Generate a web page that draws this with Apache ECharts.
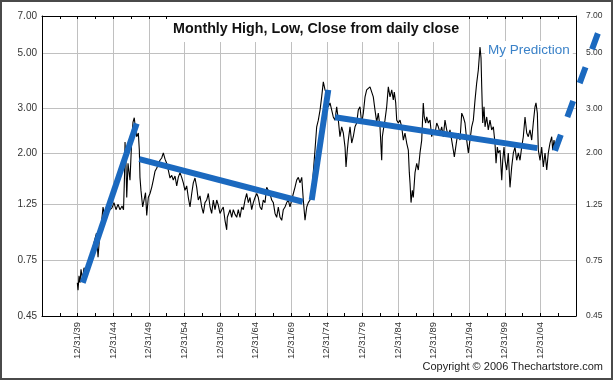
<!DOCTYPE html>
<html><head><meta charset="utf-8">
<script src="https://cdn.jsdelivr.net/npm/echarts@6/dist/echarts.min.js"></script>
<style>html,body{margin:0;padding:0;background:#fff}#c{width:615px;height:381px}</style>
</head><body><div id="c"></div>
<script>
const yTickValues = [0.45, 0.75, 1.25, 2.00, 3.00, 5.00, 7.00];
const xTickLabels = ['12/31/39','12/31/44','12/31/49','12/31/54','12/31/59','12/31/64','12/31/69','12/31/74','12/31/79','12/31/84','12/31/89','12/31/94','12/31/99','12/31/04'];
const years = [
1939.96,1940.06,1940.20,1940.34,1940.48,1940.69,1940.90,1941.18,1941.46,1941.74,
1942.02,1942.30,1942.65,1942.87,1943.08,1943.36,1943.57,1943.78,1943.99,1944.27,
1944.55,1944.83,1945.11,1945.39,1945.67,1945.96,1946.24,1946.45,1946.59,1946.66,
1946.80,1946.90,1947.08,1947.36,1947.60,1947.78,1947.96,1948.06,1948.30,1948.53,
1948.67,1948.76,1948.90,1949.14,1949.33,1949.54,1949.71,1949.93,1950.17,1950.41,
1950.63,1950.87,1951.11,1951.29,1951.57,1951.81,1952.04,1952.28,1952.51,1952.74,
1952.98,1953.22,1953.44,1953.68,1953.92,1954.14,1954.38,1954.62,1954.85,1955.08,
1955.32,1955.55,1955.79,1956.03,1956.25,1956.49,1956.73,1956.95,1957.19,1957.43,
1957.66,1957.89,1958.13,1958.36,1958.60,1958.83,1959.06,1959.30,1959.54,1959.76,
1960.00,1960.24,1960.46,1960.70,1960.94,1961.03,1961.41,1961.64,1961.87,1962.11,
1962.35,1962.57,1962.81,1963.05,1963.27,1963.51,1963.75,1963.98,1964.21,1964.45,
1964.68,1964.92,1965.16,1965.38,1965.62,1965.86,1966.08,1966.32,1966.56,1966.78,
1967.02,1967.26,1967.49,1967.73,1967.96,1968.19,1968.43,1968.67,1968.89,1969.13,
1969.37,1969.59,1969.83,1970.07,1970.30,1970.53,1970.77,1971.00,1971.24,1971.48,
1971.70,1971.94,1972.18,1972.40,1972.64,1972.88,1973.10,1973.34,1973.58,1973.81,
1974.05,1974.28,1974.51,1974.75,1974.99,1975.21,1975.45,1975.69,1975.91,1976.15,
1976.39,1976.62,1976.85,1977.09,1977.32,1977.56,1977.70,1977.88,1978.02,1978.26,
1978.50,1978.72,1978.96,1979.20,1979.42,1979.66,1979.90,1980.13,1980.37,1980.60,
1980.83,1981.07,1981.31,1981.53,1981.77,1982.01,1982.23,1982.47,1982.71,1982.80,
1982.94,1983.17,1983.41,1983.64,1983.88,1984.12,1984.34,1984.48,1984.68,1984.82,
1985.04,1985.28,1985.52,1985.75,1985.98,1986.22,1986.45,1986.59,1986.69,1986.83,
1987.01,1987.15,1987.39,1987.63,1987.85,1988.09,1988.33,1988.55,1988.69,1988.89,
1989.03,1989.26,1989.50,1989.73,1989.96,1990.20,1990.44,1990.66,1990.90,1991.14,
1991.36,1991.60,1991.84,1992.07,1992.30,1992.54,1992.77,1992.91,1993.11,1993.25,
1993.47,1993.71,1993.95,1994.17,1994.41,1994.65,1994.88,1995.11,1995.35,1995.58,
1995.82,1996.05,1996.28,1996.52,1996.66,1996.76,1996.90,1997.08,1997.22,1997.46,
1997.68,1997.92,1998.16,1998.39,1998.62,1998.77,1998.95,1999.09,1999.33,1999.57,
1999.71,1999.89,2000.03,2000.27,2000.49,2000.73,2000.97,2001.20,2001.43,2001.67,
2001.90,2002.14,2002.37,2002.60,2002.84,2003.08,2003.30,2003.54,2003.78,2004.00,
2004.24,2004.38,2004.57,2004.71,2004.95,2005.18,2005.41,2005.65,2005.89,2006.11,
2006.35,2006.59,2006.73,2006.91,2007.05
];
const closes = [
0.61,0.57,0.65,0.61,0.69,0.63,0.70,0.66,0.73,0.70,
0.80,0.88,0.96,0.77,0.92,1.06,1.22,1.13,1.20,1.17,
1.18,1.21,1.27,1.19,1.25,1.19,1.23,1.19,1.63,2.21,
1.79,1.33,1.82,1.56,2.25,2.65,2.76,2.60,2.32,2.40,
2.05,1.60,1.42,1.22,1.30,1.39,1.13,1.33,1.38,1.46,
1.56,1.69,1.74,1.71,1.87,1.91,2.00,1.89,1.82,1.71,
1.59,1.63,1.56,1.62,1.48,1.60,1.67,1.60,1.52,1.42,
1.48,1.33,1.22,1.38,1.52,1.59,1.46,1.30,1.35,1.22,
1.15,1.27,1.30,1.38,1.22,1.15,1.30,1.19,1.30,1.24,
1.15,1.19,1.22,1.08,0.99,1.11,1.19,1.11,1.19,1.14,
1.11,1.19,1.11,1.22,1.19,1.30,1.38,1.27,1.33,1.19,
1.27,1.33,1.38,1.33,1.22,1.19,1.30,1.27,1.46,1.42,
1.38,1.30,1.27,1.15,1.11,1.22,1.11,1.08,1.19,1.22,
1.27,1.30,1.22,1.30,1.38,1.46,1.56,1.60,1.52,1.60,
1.30,1.08,1.22,1.27,1.30,1.38,1.67,2.05,2.54,2.70,
2.96,3.34,3.83,3.56,3.46,3.05,3.16,2.96,2.78,2.70,
3.05,2.70,2.32,2.54,2.40,2.11,1.76,2.05,2.25,2.54,
2.19,2.32,2.54,2.63,2.96,3.05,2.63,2.88,3.34,3.56,
3.62,3.66,3.49,3.34,2.96,2.65,2.88,2.54,1.87,2.32,
2.47,2.70,3.05,3.66,3.34,3.56,3.25,3.49,3.16,2.70,
2.63,2.70,2.54,2.25,2.40,2.19,2.05,1.67,1.52,1.27,
1.42,1.33,1.67,1.82,1.71,2.00,2.25,3.16,2.78,2.63,
2.78,2.63,2.70,2.32,2.47,2.40,2.63,2.54,2.40,2.54,
2.32,2.70,2.47,2.32,2.47,2.25,2.05,1.93,2.11,2.25,
2.40,2.25,2.88,2.78,2.63,2.25,2.00,2.25,2.54,2.70,
3.25,3.79,4.27,5.27,4.77,3.66,2.63,3.05,2.54,2.78,
2.47,2.70,2.47,2.54,2.19,1.82,2.11,2.00,2.05,1.56,
1.87,2.11,1.87,1.71,2.00,1.46,1.76,2.00,2.11,1.87,
2.00,1.87,2.11,2.32,2.78,2.40,2.32,2.47,2.25,2.63,
3.05,3.16,2.88,2.05,1.87,2.11,1.76,2.00,1.71,2.00,
2.19,2.32,2.05,2.25,2.11
];
const trendLines = [
  [[1940.72, 0.61], [1948.30, 2.62]],
  [[1948.67, 1.89], [1971.62, 1.28]],
  [[1972.88, 1.30], [1975.21, 3.56]],
  [[1976.15, 2.77], [2004.57, 2.09]]
];
const prediction = [[2007.05, 2.04], [2013.09, 5.99]];

const FONT = '"Liberation Sans", Arial, Helvetica, sans-serif';
const ln = v => Math.log(v);
const lnTicks = yTickValues.map(ln);
const yMin = ln(yTickValues[0]), yMax = ln(yTickValues[yTickValues.length - 1]);
const xFormatter = v => xTickLabels[Math.round((v - 1940) / 5)] || '';
const BLUE = '#1b69bf';

const chart = echarts.init(document.getElementById('c'), null, {renderer: 'canvas'});
const baseX = {
  type: 'value', min: 1935, max: 2010, interval: 5,
  axisLine: {show: true, onZero: false, lineStyle: {color: '#000', width: 1}},
  axisTick: {show: true, inside: true, length: 3, lineStyle: {color: '#000'}},
  minorTick: {show: true, splitNumber: 2, length: 3, lineStyle: {color: '#000'}}
};
const baseY = {
  type: 'value', min: yMin, max: yMax,
  axisLine: {show: true, onZero: false, lineStyle: {color: '#000', width: 1}},
  axisTick: {show: false, customValues: lnTicks}
};
chart.setOption({
  animation: false,
  textStyle: {fontFamily: FONT},
  grid: {left: 42, right: 39, top: 16, bottom: 65, containLabel: false},
  title: [
    {text: 'Monthly High, Low, Close from daily close', left: 167, top: 17,
     padding: [3, 6, 4, 6], backgroundColor: '#fff',
     textStyle: {fontSize: 14.3, fontWeight: 'bold', color: '#111', fontFamily: FONT, lineHeight: 18}},
    {text: 'My Prediction', left: 485, top: 41, padding: [1, 3], backgroundColor: '#fff',
     textStyle: {fontSize: 13.5, fontWeight: 'normal', color: '#3b82c8', fontFamily: FONT, lineHeight: 16}}
  ],
  xAxis: [
    Object.assign({}, baseX, {
      position: 'bottom',
      axisLabel: {rotate: 90, margin: 6, fontSize: 9.5, color: '#333', fontFamily: FONT,
        formatter: xFormatter, showMinLabel: false, showMaxLabel: false},
      splitLine: {show: true, lineStyle: {color: '#c0c0c0', width: 1}}
    }),
    Object.assign({}, baseX, {
      position: 'top', axisLabel: {show: false}, splitLine: {show: false}
    })
  ],
  yAxis: [
    Object.assign({}, baseY, {
      position: 'left',
      axisLabel: {customValues: lnTicks, formatter: v => Math.exp(v).toFixed(2),
        fontSize: 10, color: '#333', margin: 5, fontFamily: FONT},
      splitLine: {show: true, lineStyle: {color: '#c0c0c0', width: 1}}
    }),
    Object.assign({}, baseY, {
      position: 'right',
      axisLabel: {customValues: lnTicks, formatter: v => Math.exp(v).toFixed(2),
        fontSize: 8.5, color: '#333', margin: 10, fontFamily: FONT},
      splitLine: {show: false}
    })
  ],
  series: [
    {type: 'line', xAxisIndex: 0, yAxisIndex: 0, symbol: 'none', z: 2,
     lineStyle: {color: '#000', width: 1.1},
     data: years.map((y, i) => [y, ln(closes[i])])}
  ].concat(trendLines.map(t => ({
    type: 'line', xAxisIndex: 0, yAxisIndex: 0, symbol: 'none', z: 3,
    lineStyle: {color: BLUE, width: 6, cap: 'butt'},
    data: t.map(p => [p[0], ln(p[1])])
  }))).concat([{
    type: 'custom', xAxisIndex: 0, yAxisIndex: 0, z: 3, clip: false,
    data: [[prediction[0][0], ln(prediction[0][1]), prediction[1][0], ln(prediction[1][1])]],
    renderItem: (params, api) => {
      const p1 = api.coord([api.value(0), api.value(1)]);
      const p2 = api.coord([api.value(2), api.value(3)]);
      return {type: 'line', shape: {x1: p1[0], y1: p1[1], x2: p2[0], y2: p2[1]},
        style: {stroke: BLUE, lineWidth: 6, lineCap: 'butt', lineDash: [17, 19], fill: null}};
    }
  }]),
  graphic: [
    {type: 'rect', silent: true, z: 100, shape: {x: 1, y: 1, width: 611, height: 378},
     style: {fill: null, stroke: '#4a4a4a', lineWidth: 2}},
    {type: 'text', x: 603, y: 367, z: 100,
     style: {text: 'Copyright \u00A9 2006 Thechartstore.com', font: '11px "Liberation Sans", Arial, sans-serif',
       fill: '#222', align: 'right', verticalAlign: 'middle'}}
  ]
});
</script></body></html>
